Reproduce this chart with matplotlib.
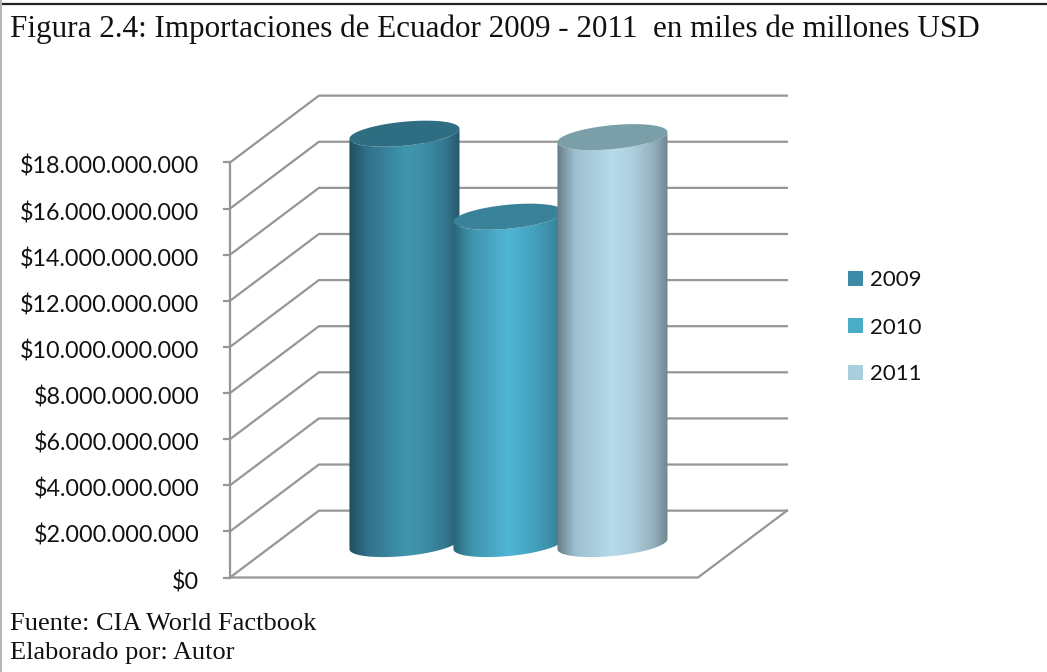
import numpy as np
import matplotlib
matplotlib.use("Agg")
import matplotlib.pyplot as plt
from matplotlib.colors import LinearSegmentedColormap
from matplotlib.patches import Polygon, Rectangle
from matplotlib.transforms import ScaledTranslation

years = ["2009", "2010", "2011"]
imports_usd = [17.8e9, 14.2e9, 17.65e9]
y_ticks = [0, 2e9, 4e9, 6e9, 8e9, 10e9, 12e9, 14e9, 16e9, 18e9]
y_tick_labels = ["$0", "$2.000.000.000", "$4.000.000.000", "$6.000.000.000", "$8.000.000.000",
                 "$10.000.000.000", "$12.000.000.000", "$14.000.000.000", "$16.000.000.000",
                 "$18.000.000.000"]
title = "Figura 2.4: Importaciones de Ecuador 2009 - 2011  en miles de millones USD"
source_lines = ["Fuente: CIA World Factbook", "Elaborado por: Autor"]

legend_colors = ["#3c8aa5", "#4bacc6", "#a9cfdd"]
top_colors = ["#2f6e82", "#3a8299", "#7b9fa9"]
side_stops = [
    ["#1f4f5f", "#2f7089", "#4096ad", "#3f8ea6", "#33768d", "#27566a"],
    ["#2a6578", "#3f92ac", "#50b6d5", "#47a6c3", "#3c8ea8", "#31758a"],
    ["#687c86", "#9dbfcf", "#b7dbea", "#add0de", "#93afbb", "#6f858e"],
]

W, H = 1047, 672
GRID = "#969696"

# oblique depth of the fake 3d box, in axis units
DEPTH_X = 0.855
DEPTH_Y = 2.9e9
RADIUS = 0.529
ELL_H = 0.52e9
ELL_TILT = 0.22e9
Y_TOP = 22e9  # axes run above the last tick so the cylinder tops are not clipped

fig = plt.figure(figsize=(W / 100, H / 100), dpi=100, facecolor="white")

# frame round the whole figure
frame = fig.add_axes([0, 0, 1, 1])
frame.set_xlim(0, W)
frame.set_ylim(H, 0)
frame.axis("off")
frame.axhline(4, color="#222222", lw=1.6)
frame.axvline(0.8, color="#b4b4b4", lw=1.4)
frame.text(10, 37, title, family="Liberation Serif", fontsize=22.4, va="baseline", color="#111111")
frame.text(10, 630, source_lines[0], family="Liberation Serif", fontsize=19, va="baseline", color="#111111")
frame.text(10, 659, source_lines[1], family="Liberation Serif", fontsize=19, va="baseline", color="#111111")

# front plane of the chart
px_per_unit = 415 / 18e9
ax = fig.add_axes([230 / W, 1 - 577.5 / H, 468 / W, Y_TOP * px_per_unit / H])
ax.patch.set_alpha(0)
x_low, x_high = -1.25, 3.25
ax.set_xlim(x_low, x_high)
ax.set_ylim(0, Y_TOP)
for s in ax.spines.values():
    s.set_visible(False)
ax.spines["left"].set_visible(True)
ax.spines["left"].set_bounds(0, 18e9)
ax.spines["left"].set_color(GRID)
ax.spines["left"].set_linewidth(1.6)
ax.set_xticks([])
ax.set_yticks(y_ticks)
ax.set_yticklabels(y_tick_labels, family="Lato", fontsize=16.8, color="#111111")
ax.tick_params(axis="y", color=GRID, width=1.6, length=5, pad=17)
# nudge the labels down a bit, they sit low in the original
for lbl in ax.get_yticklabels():
    lbl.set_transform(lbl.get_transform() + ScaledTranslation(0, -2.5 / 100, fig.dpi_scale_trans))

# walls
for v in y_ticks:
    ax.plot([x_low, x_low + DEPTH_X, x_high + DEPTH_X], [v, v + DEPTH_Y, v + DEPTH_Y],
            color=GRID, lw=1.6, clip_on=False, zorder=1, solid_joinstyle="miter")
ax.plot([x_low, x_high, x_high + DEPTH_X], [0, 0, DEPTH_Y], color=GRID, lw=1.6,
        clip_on=False, zorder=1, solid_joinstyle="miter")

# cylinders
t_low = np.linspace(np.pi, 2 * np.pi, 80)
t_all = np.linspace(0, 2 * np.pi, 160)
for i, value in enumerate(imports_usd):
    cx = i + DEPTH_X / 2
    base = DEPTH_Y / 2
    z = 3 + i
    xs = cx + RADIUS * np.cos(t_low)
    low = ELL_TILT * np.cos(t_low) + ELL_H * np.sin(t_low)
    body = np.vstack([np.column_stack([xs, base + low]),
                      np.column_stack([xs[::-1], (base + value + low)[::-1]])])
    cmap = LinearSegmentedColormap.from_list("c%d" % i, list(zip([0, 0.16, 0.5, 0.68, 0.88, 1], side_stops[i])))
    grad = np.linspace(0, 1, 256).reshape(1, -1)
    im = ax.imshow(grad, cmap=cmap, aspect="auto", zorder=z,
                   extent=[cx - RADIUS, cx + RADIUS, base - 2 * ELL_H, base + value + 2 * ELL_H])
    im.set_clip_path(Polygon(body, transform=ax.transData))
    top = np.column_stack([cx + RADIUS * np.cos(t_all),
                           base + value + ELL_TILT * np.cos(t_all) + ELL_H * np.sin(t_all)])
    ax.add_patch(Polygon(top, closed=True, fc=top_colors[i], ec="none", zorder=z + 0.5, clip_on=False))
ax.set_xlim(x_low, x_high)
ax.set_ylim(0, Y_TOP)

# legend
for i, year in enumerate(years):
    yy = 278.5 + i * 47
    frame.add_patch(Rectangle((848, yy - 7.5), 15, 15, fc=legend_colors[i], ec="none"))
    frame.text(870, yy, year, family="Lato", fontsize=16, va="center_baseline", color="#111111")

fig.savefig("out.png", dpi=100)
